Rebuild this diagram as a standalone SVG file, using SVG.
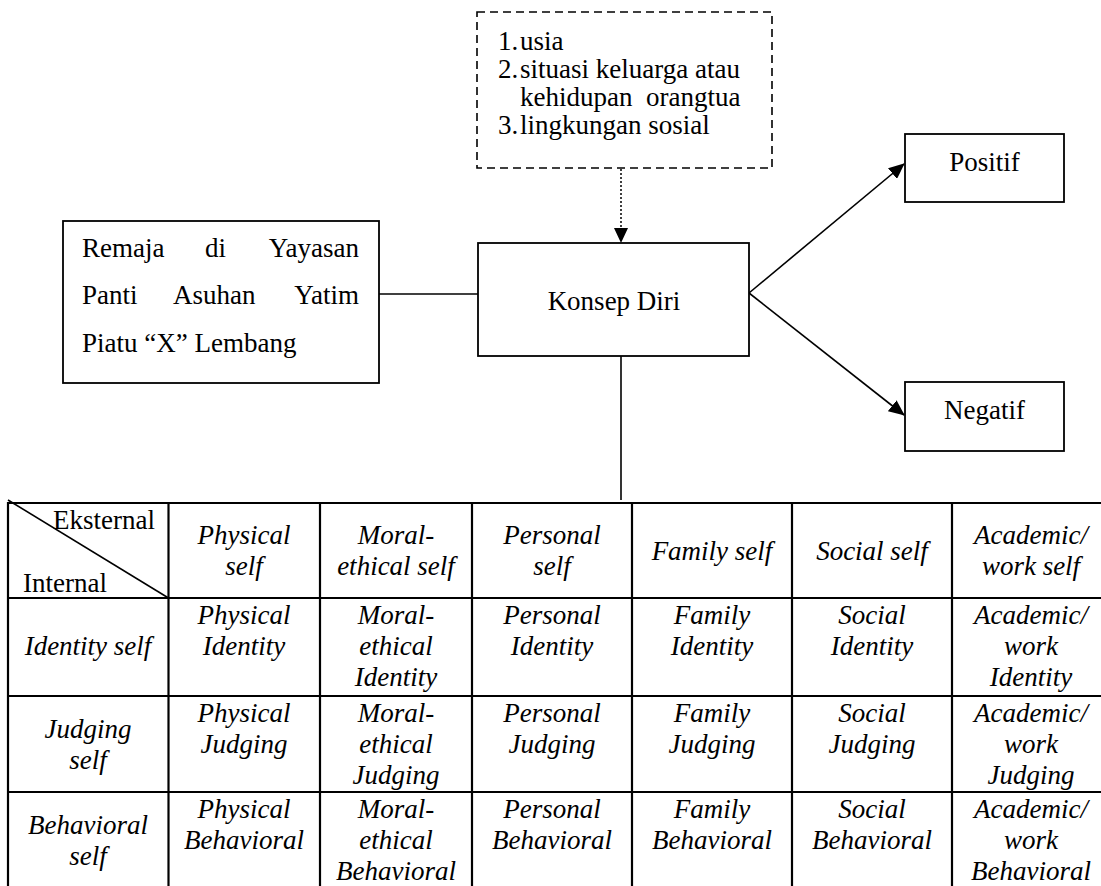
<svg xmlns="http://www.w3.org/2000/svg" width="1101" height="886" viewBox="0 0 1101 886" font-family="'Liberation Serif', 'Times New Roman', serif">
<style>
text{font-family:"Liberation Serif","Times New Roman",serif;font-size:27px;fill:#000}
.i{font-style:italic}
.c{text-anchor:middle}
.box{fill:#fff;stroke:#000;stroke-width:1.8}
.dash{fill:#fff;stroke:#000;stroke-width:1.6;stroke-dasharray:8,5}
.ln{stroke:#000;stroke-width:1.6;fill:none}
.tl{stroke:#000;stroke-width:2.2;fill:none}
</style>
<defs>
<marker id="ah" markerUnits="userSpaceOnUse" markerWidth="16" markerHeight="14" refX="15" refY="7" orient="auto">
<path d="M0,0 L16,7 L0,14 Z" fill="#000"/>
</marker>
</defs>
<g id="connectors">
<line class="ln" x1="379" y1="294" x2="478" y2="294"/>
<line x1="621" y1="169" x2="621" y2="229" stroke="#000" stroke-width="1.5" stroke-dasharray="2,2"/>
<path d="M614,228 L628,228 L621,243 Z" fill="#000"/>
<line class="ln" x1="749" y1="293" x2="904" y2="164" marker-end="url(#ah)"/>
<line class="ln" x1="749" y1="293" x2="904" y2="415" marker-end="url(#ah)"/>
<line class="ln" x1="621" y1="356" x2="621" y2="500"/>
</g>
<g id="faktor">
<rect class="dash" x="477" y="12" width="295" height="156"/>
<text x="498" y="50">1.</text><text x="520" y="50">usia</text>
<text x="498" y="78">2.</text><text x="520" y="78">situasi keluarga atau</text>
<text x="520" y="106" xml:space="preserve">kehidupan  orangtua</text>
<text x="498" y="134">3.</text><text x="520" y="134">lingkungan sosial</text>
</g>
<g id="remaja">
<rect class="box" x="63" y="221" width="316" height="162"/>
<text x="82" y="257">Remaja</text><text x="205" y="257">di</text><text x="359" y="257" text-anchor="end">Yayasan</text>
<text x="82" y="304">Panti</text><text x="173" y="304">Asuhan</text><text x="359" y="304" text-anchor="end">Yatim</text>
<text x="82" y="352">Piatu “X” Lembang</text>
</g>
<g id="konsep">
<rect class="box" x="478" y="243" width="271" height="113"/>
<text class="c" x="614" y="310">Konsep Diri</text>
</g>
<g id="positif">
<rect class="box" x="905" y="134" width="159" height="68"/>
<text class="c" x="984.5" y="171">Positif</text>
</g>
<g id="negatif">
<rect class="box" x="905" y="382" width="159" height="69"/>
<text class="c" x="984.5" y="419">Negatif</text>
</g>
<g id="tabel">
<line class="tl" x1="7" y1="503" x2="1101" y2="503"/>
<line class="tl" x1="7" y1="598" x2="1101" y2="598"/>
<line class="tl" x1="7" y1="696" x2="1101" y2="696"/>
<line class="tl" x1="7" y1="792" x2="1101" y2="792"/>
<line class="tl" x1="8" y1="502" x2="8" y2="886"/>
<line class="tl" x1="168.5" y1="502" x2="168.5" y2="886"/>
<line class="tl" x1="320" y1="502" x2="320" y2="886"/>
<line class="tl" x1="472" y1="502" x2="472" y2="886"/>
<line class="tl" x1="632" y1="502" x2="632" y2="886"/>
<line class="tl" x1="792" y1="502" x2="792" y2="886"/>
<line class="tl" x1="952" y1="502" x2="952" y2="886"/>
<line class="ln" x1="8" y1="500" x2="168.5" y2="598"/>
<text x="155" y="529" text-anchor="end">Eksternal</text>
<text x="23" y="592">Internal</text>
<g class="i">
<text class="c" x="244" y="544">Physical</text><text class="c" x="244" y="575">self</text>
<text class="c" x="396" y="544">Moral-</text><text class="c" x="396" y="575">ethical self</text>
<text class="c" x="552" y="544">Personal</text><text class="c" x="552" y="575">self</text>
<text class="c" x="712" y="560">Family self</text>
<text class="c" x="872" y="560">Social self</text>
<text class="c" x="1031" y="544">Academic/</text><text class="c" x="1031" y="575">work self</text>

<text class="c" x="88" y="655">Identity self</text>
<text class="c" x="244" y="624">Physical</text><text class="c" x="244" y="655">Identity</text>
<text class="c" x="396" y="624">Moral-</text><text class="c" x="396" y="655">ethical</text><text class="c" x="396" y="686">Identity</text>
<text class="c" x="552" y="624">Personal</text><text class="c" x="552" y="655">Identity</text>
<text class="c" x="712" y="624">Family</text><text class="c" x="712" y="655">Identity</text>
<text class="c" x="872" y="624">Social</text><text class="c" x="872" y="655">Identity</text>
<text class="c" x="1031" y="624">Academic/</text><text class="c" x="1031" y="655">work</text><text class="c" x="1031" y="686">Identity</text>

<text class="c" x="88" y="738">Judging</text><text class="c" x="88" y="769">self</text>
<text class="c" x="244" y="722">Physical</text><text class="c" x="244" y="753">Judging</text>
<text class="c" x="396" y="722">Moral-</text><text class="c" x="396" y="753">ethical</text><text class="c" x="396" y="784">Judging</text>
<text class="c" x="552" y="722">Personal</text><text class="c" x="552" y="753">Judging</text>
<text class="c" x="712" y="722">Family</text><text class="c" x="712" y="753">Judging</text>
<text class="c" x="872" y="722">Social</text><text class="c" x="872" y="753">Judging</text>
<text class="c" x="1031" y="722">Academic/</text><text class="c" x="1031" y="753">work</text><text class="c" x="1031" y="784">Judging</text>

<text class="c" x="88" y="834">Behavioral</text><text class="c" x="88" y="865">self</text>
<text class="c" x="244" y="818">Physical</text><text class="c" x="244" y="849">Behavioral</text>
<text class="c" x="396" y="818">Moral-</text><text class="c" x="396" y="849">ethical</text><text class="c" x="396" y="880">Behavioral</text>
<text class="c" x="552" y="818">Personal</text><text class="c" x="552" y="849">Behavioral</text>
<text class="c" x="712" y="818">Family</text><text class="c" x="712" y="849">Behavioral</text>
<text class="c" x="872" y="818">Social</text><text class="c" x="872" y="849">Behavioral</text>
<text class="c" x="1031" y="818">Academic/</text><text class="c" x="1031" y="849">work</text><text class="c" x="1031" y="880">Behavioral</text>
</g>
</g>
</svg>
